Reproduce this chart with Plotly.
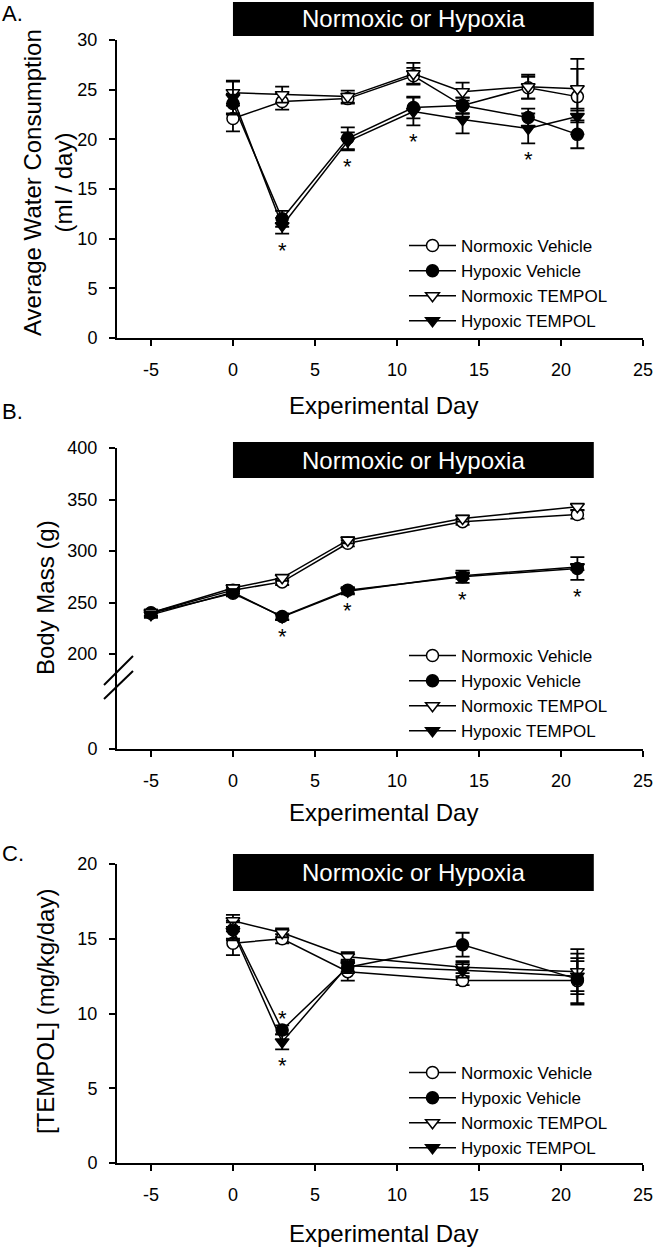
import plotly.graph_objects as go

# ---------------- DATA ----------------
series_names = ["Normoxic Vehicle", "Hypoxic Vehicle", "Normoxic TEMPOL", "Hypoxic TEMPOL"]

days_A = [0, 3, 7, 11, 14, 18, 21]
A_NV = [22.1, 23.8, 24.1, 26.4, 23.4, 25.2, 24.3]
A_NV_err = [1.3, 0.8, 0.5, 0.8, 0.8, 1.1, 3.8]
A_HV = [23.6, 12.0, 20.1, 23.2, 23.4, 22.2, 20.5]
A_HV_err = [1.0, 0.8, 1.1, 1.1, 0.8, 0.9, 1.4]
A_NT = [24.7, 24.5, 24.3, 26.6, 24.8, 25.3, 25.1]
A_NT_err = [1.1, 0.8, 0.6, 1.1, 0.9, 1.2, 2.0]
A_HT = [24.2, 11.3, 19.8, 22.8, 22.0, 21.1, 22.3]
A_HT_err = [1.7, 0.8, 0.9, 1.4, 1.4, 1.5, 0.6]
A_star_days = [3, 7, 11, 18]

days_B = [-5, 0, 3, 7, 14, 21]
B_NV = [240, 262, 270, 307.5, 328.5, 335.5]
B_NV_err = [3, 3, 3, 3, 3, 4]
B_HV = [239.5, 259, 236.5, 262, 275, 283]
B_HV_err = [3, 3, 3, 3, 6, 11]
B_NT = [240, 264, 274, 310.5, 331.5, 343]
B_NT_err = [3, 3, 3, 3, 3, 3]
B_HT = [238, 260, 236, 261, 276, 284.5]
B_HT_err = [3, 3, 3, 3, 3, 3]
B_star_days = [3, 7, 14, 21]

days_C = [0, 3, 7, 14, 21]
C_NV = [14.7, 15.0, 12.8, 12.2, 12.2]
C_NV_err = [0.8, 0.3, 0.6, 0.3, 1.5]
C_HV = [15.6, 8.9, 13.1, 14.6, 12.3]
C_HV_err = [0.6, 0.3, 0.4, 0.8, 1.7]
C_NT = [16.2, 15.4, 13.8, 13.1, 12.8]
C_NT_err = [0.4, 0.3, 0.3, 0.4, 1.5]
C_HT = [15.5, 8.1, 13.2, 12.9, 12.5]
C_HT_err = [0.6, 0.5, 0.4, 0.5, 1.0]
C_star_above_days = [3]
C_star_below_days = [3]

x_ticks = [-5, 0, 5, 10, 15, 20, 25]
x_tick_labels = ["-5", "0", "5", "10", "15", "20", "25"]
A_y_ticks = [0, 5, 10, 15, 20, 25, 30]
B_y_ticks = [200, 250, 300, 350, 400]
B_low_ticks = [0]
C_y_ticks = [0, 5, 10, 15, 20]

banner_text = "Normoxic or Hypoxia"
banner_start, banner_end = 0, 22
x_title = "Experimental Day"

# ---------------- STYLE ----------------
W, H = 656, 1248
FONT = "Liberation Sans, Arial, sans-serif"
styles = [
    dict(symbol="circle", color="white"),
    dict(symbol="circle", color="black"),
    dict(symbol="triangle-down", color="white"),
    dict(symbol="triangle-down", color="black"),
]


def px_x(p):
    return p / W


def px_y(p):
    return 1 - p / H


fig = go.Figure()


def add_panel(days, vals, errs, xa, ya, legend, showlegend=True):
    for name, v, e, st in zip(series_names, vals, errs, styles):
        fig.add_trace(go.Scatter(
            x=days, y=v, name=name, mode="lines+markers",
            xaxis=xa, yaxis=ya, legend=legend, showlegend=showlegend,
            line=dict(color="black", width=1.5),
            marker=dict(symbol=st["symbol"], size=12, color=st["color"],
                        line=dict(color="black", width=1.5)),
            error_y=dict(type="data", array=e, visible=True, color="black",
                         thickness=1.8, width=7),
        ))


add_panel(days_A, [A_NV, A_HV, A_NT, A_HT], [A_NV_err, A_HV_err, A_NT_err, A_HT_err], "x", "y", "legend")
add_panel(days_B, [B_NV, B_HV, B_NT, B_HT], [B_NV_err, B_HV_err, B_NT_err, B_HT_err], "x2", "y2", "legend2")
add_panel(days_C, [C_NV, C_HV, C_NT, C_HT], [C_NV_err, C_HV_err, C_NT_err, C_HT_err], "x3", "y4", "legend3")
# empty trace so the lower (broken) part of panel B's y axis and its x axis get drawn
fig.add_trace(go.Scatter(x=[], y=[], xaxis="x2", yaxis="y3", showlegend=False, hoverinfo="skip"))

x_dom = [px_x(117), px_x(643)]
xr = [-7.07, 25]
axis_common = dict(showline=True, linecolor="black", linewidth=2, ticks="outside",
                   ticklen=6, tickwidth=2, tickcolor="black", showgrid=False, automargin=False,
                   zeroline=False, ticklabelstandoff=8,
                   tickfont=dict(family=FONT, size=18, color="black"))
xcommon = dict(domain=x_dom, range=xr, tickvals=x_ticks, ticktext=x_tick_labels, **axis_common)

fig.update_layout(
    width=W, height=H, margin=dict(l=0, r=0, t=0, b=0, autoexpand=False),
    paper_bgcolor="white", plot_bgcolor="white",
    font=dict(family=FONT, color="black"),
    xaxis=dict(anchor="y", **xcommon),
    yaxis=dict(domain=[px_y(338), px_y(40)], range=[0, 30], anchor="x", tickvals=A_y_ticks, **axis_common),
    xaxis2=dict(anchor="y3", **xcommon),
    yaxis2=dict(domain=[px_y(678), px_y(448)], range=[176.7, 400], anchor="x2", tickvals=B_y_ticks, **axis_common),
    yaxis3=dict(domain=[px_y(749), px_y(678)], range=[0, 10], anchor="x2", tickvals=B_low_ticks, **axis_common),
    xaxis3=dict(anchor="y4", **xcommon),
    yaxis4=dict(domain=[px_y(1163), px_y(864)], range=[0, 20], anchor="x3", tickvals=C_y_ticks, **axis_common),
)

leg_common = dict(font=dict(family=FONT, size=17, color="black"), bgcolor="rgba(0,0,0,0)",
                  xanchor="left", yanchor="top", itemwidth=47, tracegroupgap=0)
fig.update_layout(
    legend=dict(x=px_x(404), y=px_y(228), **leg_common),
    legend2=dict(x=px_x(404), y=px_y(638), **leg_common),
    legend3=dict(x=px_x(404), y=px_y(1055), **leg_common),
)

shapes = []
annotations = []
# banners
for xref, top, bot in [("x", 2, 36), ("x2", 442, 478), ("x3", 854, 891)]:
    shapes.append(dict(type="rect", xref=xref, yref="paper", x0=banner_start, x1=banner_end,
                       y0=px_y(bot), y1=px_y(top), fillcolor="black", line=dict(width=0)))
    annotations.append(dict(xref=xref, yref="paper", x=(banner_start + banner_end) / 2,
                            y=px_y((top + bot) / 2), text=banner_text, showarrow=False,
                            font=dict(family=FONT, size=24, color="white"),
                            xanchor="center", yanchor="middle"))
# axis break slashes (panel B)
for (xa, ya, xb, yb) in [(104, 685, 133, 656), (104, 699, 133, 671)]:
    shapes.append(dict(type="line", xref="paper", yref="paper", x0=px_x(xa), y0=px_y(ya),
                       x1=px_x(xb), y1=px_y(yb), line=dict(color="black", width=2)))

# x titles
for yc in [405, 812, 1233]:
    annotations.append(dict(xref="paper", yref="paper", x=px_x(383), y=px_y(yc), text=x_title,
                            showarrow=False, font=dict(family=FONT, size=24), xanchor="center", yanchor="middle"))
# y titles
for txt, xc, yc in [("Average Water Consumption<br>(ml / day)", 48, 183),
                    ("Body Mass (g)", 45, 598),
                    ("[TEMPOL] (mg/kg/day)", 45, 1012)]:
    annotations.append(dict(xref="paper", yref="paper", x=px_x(xc), y=px_y(yc), text=txt, textangle=-90,
                            showarrow=False, font=dict(family=FONT, size=24), xanchor="center", yanchor="middle"))
# panel letters
for txt, yc in [("A.", 14), ("B.", 412), ("C.", 853)]:
    annotations.append(dict(xref="paper", yref="paper", x=0.0, y=px_y(yc), text=txt, showarrow=False,
                            font=dict(family=FONT, size=22), xanchor="left", yanchor="middle"))


# significance stars, placed from the data
def star_below(days, stars, series, xref, yref):
    for d in stars:
        i = days.index(d)
        low = min(v[i] - e[i] for v, e in series)
        annotations.append(dict(xref=xref, yref=yref, x=d, y=low, text="*", showarrow=False,
                                font=dict(family=FONT, size=22, color="black"),
                                xanchor="center", yanchor="top", yshift=-2))


def star_above(days, stars, series, xref, yref):
    for d in stars:
        i = days.index(d)
        high = max(v[i] + e[i] for v, e in series)
        annotations.append(dict(xref=xref, yref=yref, x=d, y=high, text="*", showarrow=False,
                                font=dict(family=FONT, size=22, color="black"),
                                xanchor="center", yanchor="bottom", yshift=-8))


star_below(days_A, A_star_days, [(A_HV, A_HV_err), (A_HT, A_HT_err)], "x", "y")
star_below(days_B, B_star_days, [(B_HV, B_HV_err), (B_HT, B_HT_err)], "x2", "y2")
star_below(days_C, C_star_below_days, [(C_HT, C_HT_err)], "x3", "y4")
star_above(days_C, C_star_above_days, [(C_HV, C_HV_err)], "x3", "y4")

fig.update_layout(shapes=shapes, annotations=annotations)
# remove the browser's default 8px page margin so the figure sits at the window's corner
fig.write_html("out.html", config={"displayModeBar": False},
               post_script="document.body.style.margin='0px';")
